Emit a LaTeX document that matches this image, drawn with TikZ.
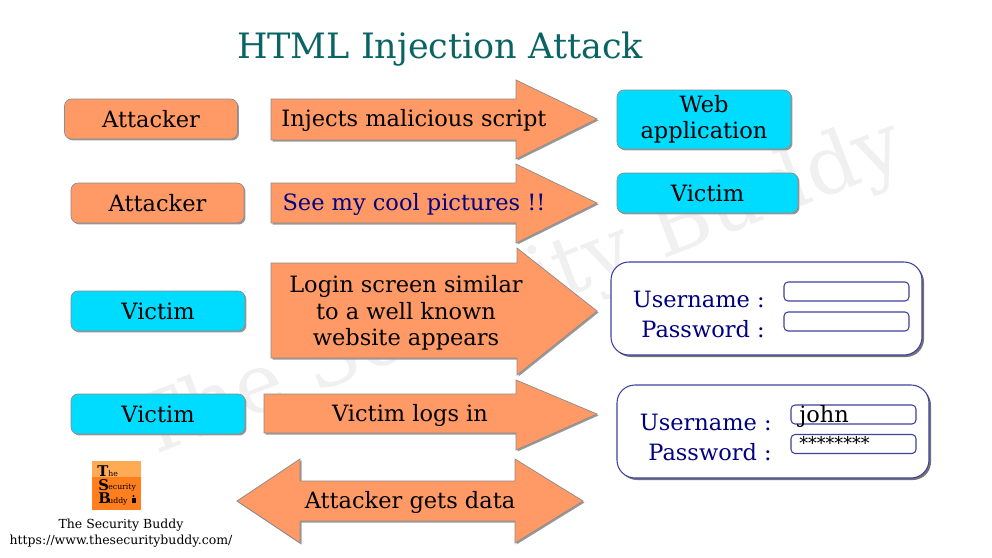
\documentclass[tikz,border=0pt]{standalone}
\usepackage{fontspec}
\usepackage{xcolor}
\usetikzlibrary{shadows}
\setmainfont{DejaVu Serif}

\definecolor{attackorange}{HTML}{FF9966}
\definecolor{victimcyan}{HTML}{00DCFF}
\definecolor{titleteal}{HTML}{0A6464}
\definecolor{formnavy}{HTML}{000080}
\definecolor{edgegray}{HTML}{8C8C8C}
\definecolor{logolight}{HTML}{FFAA55}
\definecolor{logodark}{HTML}{FF7F1E}

\tikzset{
    flatshadow/.style={drop shadow={shadow xshift=0.03cm,shadow yshift=-0.03cm,opacity=1,fill=black!40}},
    boxlabel/.style={inner sep=0pt,align=center,font=\fontsize{12.8}{15}\selectfont},
    orangebox/.style={boxlabel,draw=edgegray,fill=attackorange,rounded corners=0.14cm,flatshadow},
    cyanbox/.style={boxlabel,draw=edgegray,fill=victimcyan,rounded corners=0.14cm,flatshadow},
    arrowshape/.style={draw=edgegray,fill=attackorange,flatshadow},
    arrowlabel/.style={boxlabel},
    formbox/.style={draw=formnavy!75!white,line width=0.6pt,fill=white,rounded corners=0.36cm,
        drop shadow={shadow xshift=0.04cm,shadow yshift=-0.04cm,opacity=1,fill=black!55}},
    inputbox/.style={draw=formnavy!75!white,line width=0.6pt,fill=white,rounded corners=0.08cm,inner sep=0pt,minimum width=2.5cm,minimum height=0.38cm},
    formlabel/.style={anchor=base east,inner sep=0pt,text=formnavy,font=\fontsize{12.8}{15}\selectfont},
    logotext/.style={inner sep=0pt,anchor=base west,font=\fontsize{4.4}{5}\selectfont},
    logoletter/.style={inner sep=0pt,anchor=base west,font=\fontsize{8.4}{10}\selectfont\bfseries}
}

\begin{document}
\begin{tikzpicture}[x=0.02cm,y=-0.02cm]
    \useasboundingbox (0,0) rectangle (992,558);

    % watermark
    \node[rotate=21,text=black!6,inner sep=0pt,font=\fontsize{46.5}{50}\selectfont] (mark) at (519,291) {The Security Buddy};

    \node[inner sep=0pt,text=titleteal,font=\fontsize{19.9}{25}\selectfont] (title) at (440,49) {HTML Injection Attack};

    \node[orangebox,minimum width=3.46cm,minimum height=0.8cm] (attacker1) at (151,119) {Attacker};
    \node[orangebox,minimum width=3.46cm,minimum height=0.8cm] (attacker2) at (157.5,203) {Attacker};
    \node[cyanbox,minimum width=3.48cm,minimum height=0.8cm] (victim1) at (158,311) {Victim};
    \node[cyanbox,minimum width=3.48cm,minimum height=0.8cm] (victim2) at (158,414) {Victim};
    \node[cyanbox,minimum width=3.48cm,minimum height=1.18cm] (webapp) at (704,119.5) {Web\\application};
    \node[cyanbox,minimum width=3.62cm,minimum height=0.8cm] (victim3) at (707.5,193) {Victim};

    % arrows
    \draw[arrowshape] (271,99) -- (516,99) -- (516,80) -- (597,119) -- (516,159) -- (516,140) -- (271,140) -- cycle;
    \draw[arrowshape] (271,183) -- (516,183) -- (516,164) -- (597,203) -- (516,243) -- (516,223) -- (271,223) -- cycle;
    \draw[arrowshape] (271,263) -- (517,263) -- (517,248) -- (597,311) -- (517,375) -- (517,358) -- (271,358) -- cycle;
    \draw[arrowshape] (264,394) -- (516,394) -- (516,380) -- (597,414) -- (516,450) -- (516,433) -- (264,433) -- cycle;
    \draw[arrowshape] (237,501) -- (300,459) -- (300,481) -- (515,481) -- (515,459) -- (583,501) -- (515,543) -- (515,521) -- (300,521) -- (300,543) -- cycle;

    \node[arrowlabel] (inject) at (414,120.5) {Injects malicious script};
    \node[arrowlabel,text=formnavy] (pictures) at (414,204.5) {See my cool pictures !!};
    \node[arrowlabel] (login) at (406,313) {Login screen similar\\to a well known\\website appears};
    \node[arrowlabel] (logs) at (410,415.5) {Victim logs in};
    \node[arrowlabel] (data) at (410,502.5) {Attacker gets data};

    % login forms
    \draw[formbox] (611,262) rectangle (922,355);
    \node[formlabel] (user1) at (765,307) {Username :};
    \node[formlabel] (pass1) at (765,337) {Password :};
    \node[inputbox] (input1) at (846.5,291.5) {};
    \node[inputbox] (input2) at (846.5,321.5) {};

    \draw[formbox] (617,385) rectangle (929,478);
    \node[formlabel] (user2) at (772,430) {Username :};
    \node[formlabel] (pass2) at (772,460) {Password :};
    \node[inputbox] (input3) at (853.5,414.5) {};
    \node[inputbox] (input4) at (853.5,444) {};
    \node[inner sep=0pt,anchor=base west,font=\fontsize{12.8}{15}\selectfont] (john) at (799,422) {john};
    \node[inner sep=0pt,anchor=base west,font=\fontsize{10}{12}\selectfont] (stars) at (799,449) {********};

    % logo
    \fill[logolight] (92,461) rectangle (141,477);
    \fill[logodark] (92,477) rectangle (141,510);
    \node[logoletter] (logot) at (97,476) {T};
    \node[logotext] (logohe) at (108,476) {he};
    \node[logoletter] (logos) at (98,490) {S};
    \node[logotext] (logoec) at (108,489) {ecurity};
    \node[logoletter] (logob) at (98,503) {B};
    \node[logotext] (logoud) at (108,503) {uddy};
    \fill (133.5,496) circle (1.2);
    \fill (131.5,498) rectangle (135.5,503);

    \node[inner sep=0pt,font=\fontsize{7.1}{9}\selectfont] (brand) at (121,525) {The Security Buddy};
    \node[inner sep=0pt,font=\fontsize{7.1}{9}\selectfont] (url) at (121,541) {https://www.thesecuritybuddy.com/};
\end{tikzpicture}
\end{document}
